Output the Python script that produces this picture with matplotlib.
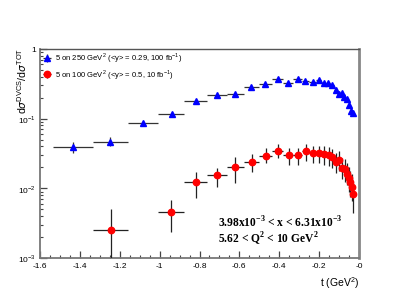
import numpy as np
import matplotlib
matplotlib.use('Agg')
from matplotlib import pyplot as plt
from matplotlib.ticker import LogLocator, MultipleLocator, NullFormatter, FixedLocator

# 5 on 250 GeV^2 (blue triangles)
t_250 = [-1.433, -1.249, -1.082, -0.940, -0.819, -0.714, -0.621, -0.540,
         -0.470, -0.408, -0.355, -0.308, -0.270, -0.233, -0.202, -0.176,
         -0.154, -0.136, -0.117, -0.099, -0.087, -0.075, -0.062, -0.052,
         -0.042, -0.032]
t_250_lo = [-1.533, -1.333, -1.160, -1.010, -0.878, -0.764, -0.664, -0.577,
            -0.503, -0.438, -0.381, -0.331, -0.288, -0.251, -0.218, -0.190,
            -0.165, -0.144, -0.125, -0.109, -0.095, -0.082, -0.068, -0.057,
            -0.047, -0.037]
t_250_hi = [-1.333, -1.161, -1.010, -0.878, -0.764, -0.664, -0.577, -0.503,
            -0.438, -0.381, -0.331, -0.288, -0.251, -0.218, -0.190, -0.165,
            -0.144, -0.125, -0.109, -0.095, -0.082, -0.070, -0.057, -0.047,
            -0.037, -0.028]
r_250 = [0.039, 0.0468, 0.0859, 0.1156, 0.179, 0.221, 0.228, 0.282,
         0.318, 0.367, 0.322, 0.367, 0.351, 0.333, 0.363, 0.322,
         0.322, 0.305, 0.261, 0.224, 0.232, 0.203, 0.190, 0.156,
         0.129, 0.119]
r_250_lo = [0.032, 0.040, 0.078, 0.109, 0.171, 0.213, 0.220, 0.274,
            0.310, 0.358, 0.313, 0.358, 0.342, 0.324, 0.353, 0.313,
            0.313, 0.296, 0.252, 0.215, 0.223, 0.194, 0.181, 0.148,
            0.121, 0.110]
r_250_hi = [0.047, 0.055, 0.094, 0.123, 0.187, 0.229, 0.236, 0.290,
            0.326, 0.376, 0.331, 0.376, 0.360, 0.342, 0.373, 0.331,
            0.331, 0.314, 0.270, 0.233, 0.241, 0.212, 0.199, 0.164,
            0.137, 0.128]

# 5 on 100 GeV^2 (red circles)
t_100 = [-1.245, -0.943, -0.819, -0.714, -0.621, -0.538, -0.468, -0.405,
         -0.353, -0.308, -0.266, -0.233, -0.202, -0.176, -0.152, -0.134,
         -0.116, -0.099, -0.086, -0.072, -0.060, -0.052, -0.044, -0.037,
         -0.032]
t_100_lo = [-1.333, -1.010, -0.876, -0.764, -0.664, -0.577, -0.503, -0.438,
            -0.381, -0.331, -0.288, -0.251, -0.218, -0.190, -0.165, -0.144,
            -0.125, -0.109, -0.095, -0.082, -0.068, -0.057, -0.049, -0.041,
            -0.035]
t_100_hi = [-1.161, -0.876, -0.761, -0.664, -0.577, -0.503, -0.438, -0.381,
            -0.331, -0.288, -0.251, -0.218, -0.190, -0.165, -0.144, -0.125,
            -0.109, -0.095, -0.082, -0.068, -0.057, -0.049, -0.041, -0.035,
            -0.029]
r_100 = [0.00251, 0.00463, 0.0122, 0.0154, 0.0203, 0.0239, 0.0295, 0.0344,
         0.0301, 0.0301, 0.0344, 0.0319, 0.0319, 0.0312, 0.0298, 0.0279,
         0.0237, 0.0255, 0.0196, 0.0188, 0.0163, 0.0140, 0.0122, 0.0106,
         0.0083]
r_100_lo = [0.0009, 0.00239, 0.0072, 0.0106, 0.0118, 0.0170, 0.0229, 0.0276,
            0.0217, 0.0220, 0.0250, 0.0235, 0.0230, 0.0220, 0.0210, 0.0195,
            0.0165, 0.0175, 0.0135, 0.0125, 0.0110, 0.0090, 0.0075, 0.0065,
            0.0045]
r_100_hi = [0.0050, 0.00682, 0.0170, 0.0196, 0.0285, 0.0308, 0.0376, 0.0429,
            0.0376, 0.0385, 0.0429, 0.0400, 0.0400, 0.0400, 0.0390, 0.0370,
            0.0320, 0.0340, 0.0270, 0.0260, 0.0230, 0.0200, 0.0180, 0.0160,
            0.0120]

label_250 = r'5 on 250 GeV$^2$ (<y> = 0.29, 100 fb$^{-1}$)'
label_100 = r'5 on 100 GeV$^2$ (<y> = 0.5, 10 fb$^{-1}$)'


def asym(center, lo, hi):
    c = np.array(center)
    return [c - np.array(lo), np.array(hi) - c]


plt.rcParams['font.family'] = ['Liberation Sans', 'DejaVu Sans']
plt.rcParams['mathtext.fontset'] = 'custom'
plt.rcParams['mathtext.rm'] = 'Liberation Sans'
plt.rcParams['mathtext.bf'] = 'Liberation Serif:bold'

fig = plt.figure(figsize=(3.99, 2.99), dpi=100)
ax = fig.add_axes([0.1003, 0.137, 0.7994, 0.699])

ax.errorbar(t_250, r_250, xerr=asym(t_250, t_250_lo, t_250_hi),
            yerr=asym(r_250, r_250_lo, r_250_hi), fmt='^', color='#0000ff',
            ms=4.8, ecolor='#333333', elinewidth=0.9, capsize=0,
            label=label_250, zorder=3)
ax.errorbar(t_100, r_100, xerr=asym(t_100, t_100_lo, t_100_hi),
            yerr=asym(r_100, r_100_lo, r_100_hi), fmt='o', color='#ff0000',
            ms=4.6, ecolor='#222222', elinewidth=0.9, capsize=0,
            label=label_100, zorder=3)

ax.set_yscale('log')
ax.set_xlim(-1.6, 0)
ax.set_ylim(1e-3, 1)

ax.xaxis.set_major_locator(MultipleLocator(0.2))
ax.xaxis.set_minor_locator(MultipleLocator(0.05))
ax.set_xticklabels([])
ax.yaxis.set_major_locator(FixedLocator([1e-3, 1e-2, 1e-1, 1]))
ax.yaxis.set_minor_locator(LogLocator(base=10, subs=np.arange(2, 10)))
ax.yaxis.set_minor_formatter(NullFormatter())
ax.set_yticklabels(['10$^{-3}$', '10$^{-2}$', '10$^{-1}$', '1'])
ax.tick_params(axis='both', which='both', direction='in', color='#444444',
               labelsize=6, top=False, right=False)
ax.tick_params(axis='both', which='major', length=5, width=0.9, pad=3)
ax.tick_params(axis='both', which='minor', length=2.5, width=0.8)

for v in np.arange(-1.6, 0.01, 0.2):
    ax.text(v, -0.025, '{0:g}'.format(round(v, 1)), transform=ax.get_xaxis_transform(),
            ha='center', va='top', fontsize=6)

for side in ['left', 'bottom']:
    ax.spines[side].set_color('#777777')
    ax.spines[side].set_linewidth(1.3)
ax.spines['top'].set_color('#555555')
ax.spines['top'].set_linewidth(1.0)
ax.spines['right'].set_color('#888888')
ax.spines['right'].set_linewidth(2.0)

ax.set_xlabel(r't (GeV$^2$)', fontsize=7.5, loc='right', labelpad=9)
fig.text(22.0 / 399, 1 - 48.0 / 299, r'd$\sigma^{\mathrm{DVCS}}$/d$\sigma^{\mathrm{TOT}}$',
         fontsize=7.6, rotation=90, ha='center', va='top')

ax.legend(loc='upper left', frameon=False, fontsize=5.5, handletextpad=0.5,
          borderaxespad=0.1, borderpad=0.2, labelspacing=0.3, handlelength=1.2,
          numpoints=1, markerscale=1.0)

ax.text(0.557, 0.145, r'3.98x10$^{\mathbf{-3}}$ < x < 6.31x10$^{\mathbf{-3}}$',
        transform=ax.transAxes, fontsize=8.3, fontweight='bold',
        family='Liberation Serif')
ax.text(0.557, 0.07, r'5.62 < Q$^{\mathbf{2}}$ < 10 GeV$^{\mathbf{2}}$',
        transform=ax.transAxes, fontsize=8.3, fontweight='bold',
        family='Liberation Serif')

fig.savefig('out.png', dpi=100)
